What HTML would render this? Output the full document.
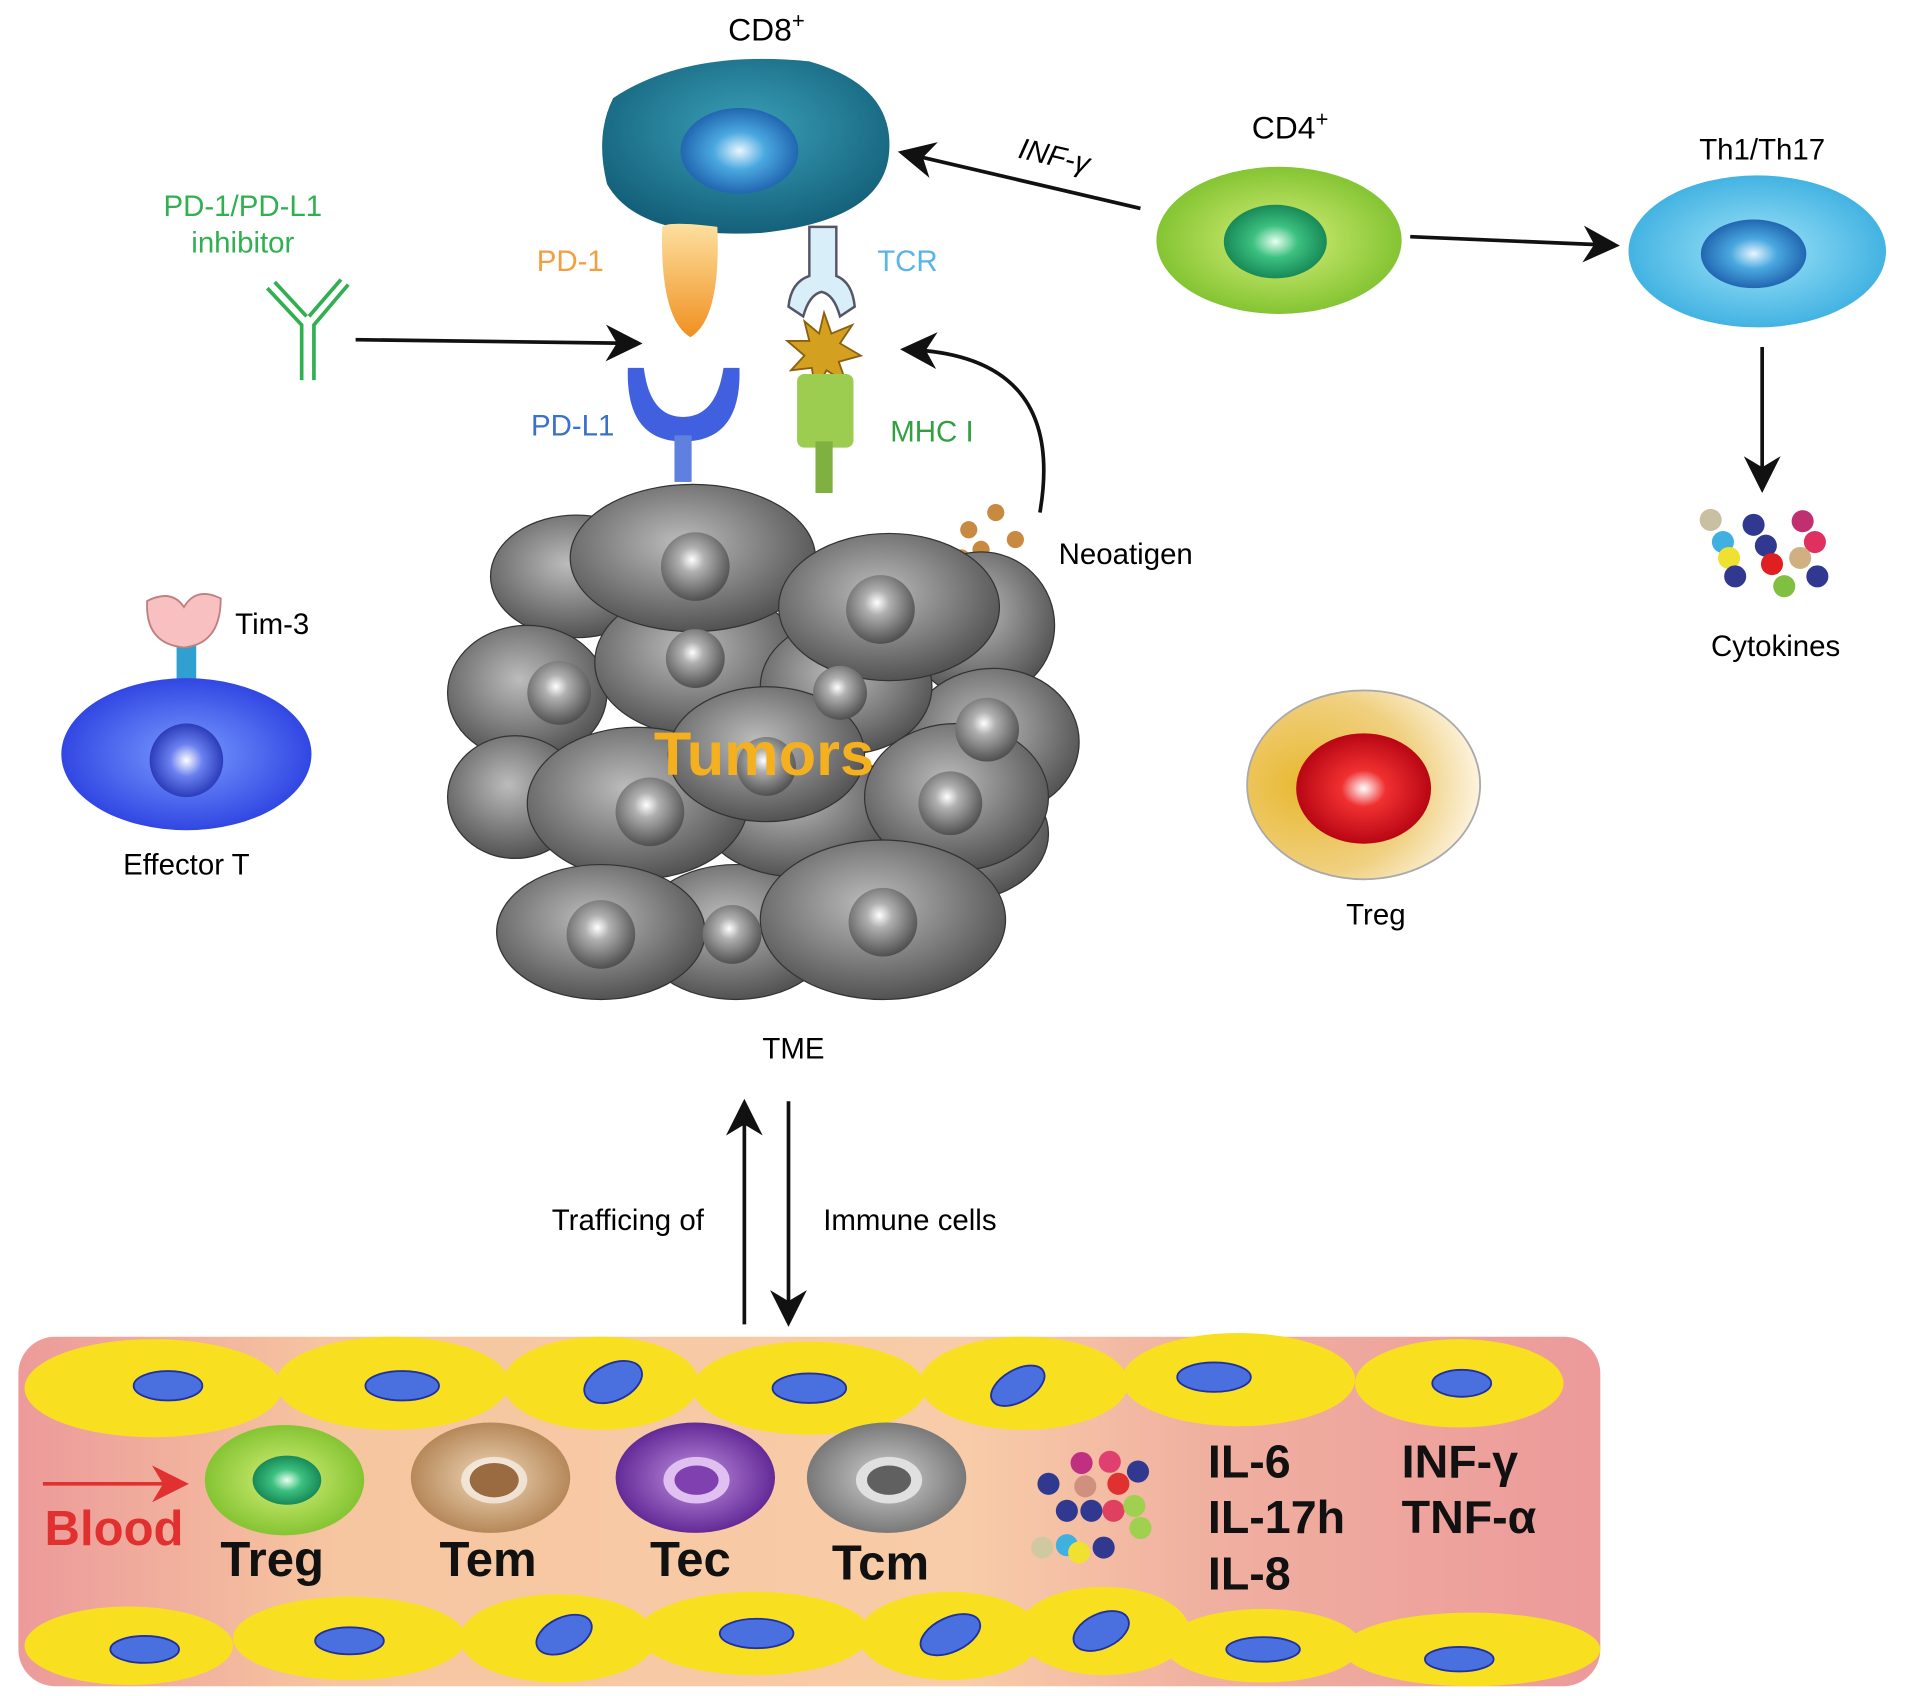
<!DOCTYPE html>
<html><head><meta charset="utf-8"><style>
html,body{margin:0;padding:0;background:#fff;}
svg{display:block;}
text{font-family:"Liberation Sans",sans-serif;}
</style></head><body>
<svg width="1913" height="1696" viewBox="0 0 1560 1383" preserveAspectRatio="none" xmlns="http://www.w3.org/2000/svg">
<defs>
<radialGradient id="teal" cx="50%" cy="40%" r="60%"><stop offset="0" stop-color="#3aa0b8"/><stop offset="1" stop-color="#14607a"/></radialGradient>
<radialGradient id="bluenuc" cx="50%" cy="50%" r="55%"><stop offset="0" stop-color="#e8f6ff"/><stop offset="0.4" stop-color="#4aa8e0"/><stop offset="1" stop-color="#1a5aa8"/></radialGradient>
<radialGradient id="green" cx="50%" cy="50%" r="55%"><stop offset="0" stop-color="#d8f07a"/><stop offset="1" stop-color="#7cc02c"/></radialGradient>
<radialGradient id="gnuc" cx="50%" cy="50%" r="55%"><stop offset="0" stop-color="#e8fff0"/><stop offset="0.4" stop-color="#3cc080"/><stop offset="1" stop-color="#118050"/></radialGradient>
<radialGradient id="lblue" cx="50%" cy="50%" r="55%"><stop offset="0" stop-color="#a0e4f8"/><stop offset="1" stop-color="#3aaee0"/></radialGradient>
<radialGradient id="eff" cx="50%" cy="50%" r="55%"><stop offset="0" stop-color="#7a9cff"/><stop offset="1" stop-color="#2a3ee0"/></radialGradient>
<radialGradient id="effn" cx="50%" cy="50%" r="55%"><stop offset="0" stop-color="#ffffff"/><stop offset="0.4" stop-color="#6a80f0"/><stop offset="1" stop-color="#2030b0"/></radialGradient>
<radialGradient id="gold" cx="25%" cy="50%" r="80%"><stop offset="0" stop-color="#e8b830"/><stop offset="0.6" stop-color="#f0d080"/><stop offset="1" stop-color="#fffaf0"/></radialGradient>
<radialGradient id="red" cx="50%" cy="50%" r="55%"><stop offset="0" stop-color="#ffffff"/><stop offset="0.3" stop-color="#f03030"/><stop offset="1" stop-color="#b00010"/></radialGradient>
<radialGradient id="gray" cx="45%" cy="40%" r="65%"><stop offset="0" stop-color="#bcbcbc"/><stop offset="1" stop-color="#4a4a4a"/></radialGradient>
<radialGradient id="gnuc2" cx="45%" cy="40%" r="60%"><stop offset="0" stop-color="#ffffff"/><stop offset="0.3" stop-color="#b0b0b0"/><stop offset="1" stop-color="#505050"/></radialGradient>
<linearGradient id="orange" x1="0" y1="0" x2="0" y2="1"><stop offset="0" stop-color="#fde0a0"/><stop offset="1" stop-color="#f09020"/></linearGradient>
<linearGradient id="vessel" x1="0" y1="0" x2="1" y2="0"><stop offset="0" stop-color="#ec9a9a"/><stop offset="0.2" stop-color="#f6c6a0"/><stop offset="0.6" stop-color="#f8cca8"/><stop offset="0.75" stop-color="#f0b0a0"/><stop offset="1" stop-color="#ec9a9a"/></linearGradient>
<radialGradient id="tem" cx="50%" cy="50%" r="55%"><stop offset="0" stop-color="#f0d8b8"/><stop offset="1" stop-color="#b08050"/></radialGradient>
<radialGradient id="tec" cx="50%" cy="50%" r="55%"><stop offset="0" stop-color="#c090e0"/><stop offset="1" stop-color="#5a2090"/></radialGradient>
<radialGradient id="tcm" cx="50%" cy="50%" r="55%"><stop offset="0" stop-color="#d0d0d0"/><stop offset="1" stop-color="#707070"/></radialGradient>
<marker id="ah" markerWidth="10" markerHeight="10" refX="8" refY="5" orient="auto" markerUnits="strokeWidth"><path d="M0,0 L10,5 L0,10 L3,5z" fill="#111"/></marker>
<marker id="ahr" markerWidth="10" markerHeight="10" refX="8" refY="5" orient="auto" markerUnits="strokeWidth"><path d="M0,0 L10,5 L0,10 L3,5z" fill="#e03030"/></marker>
</defs>

<!-- CD8 -->
<text x="625" y="33" font-size="26" text-anchor="middle">CD8<tspan dy="-10" font-size="18">+</tspan></text>
<path d="M500,80 Q560,40 660,50 Q730,70 725,125 Q720,180 620,190 Q520,195 495,150 Q485,110 500,80z" fill="url(#teal)"/>
<ellipse cx="603" cy="123" rx="48" ry="35" fill="url(#bluenuc)"/>
<path d="M540,185 Q545,180 585,185 Q588,260 563,275 Q538,260 540,185z" fill="url(#orange)"/>
<text x="465" y="221" font-size="24" fill="#f0a040" text-anchor="middle">PD-1</text>
<!-- TCR -->
<path d="M660,185 L660,225 Q645,230 643,250 L655,258 Q660,240 670,238 Q680,240 685,258 L697,250 Q695,230 682,225 L682,185z" fill="#d8eef8" stroke="#556" stroke-width="2"/>
<text x="740" y="221" font-size="24" fill="#5ab4e8" text-anchor="middle">TCR</text>
<polygon points="672,255 678,272 695,265 685,280 702,290 684,295 690,312 674,302 665,318 662,300 645,302 656,290 642,278 660,278 656,262 668,272" fill="#d4a020" stroke="#8a6010" stroke-width="1.5"/>
<rect x="650" y="305" width="46" height="60" rx="6" fill="#9ccc50"/>
<rect x="665" y="360" width="14" height="42" fill="#80b040"/>
<text x="760" y="360" font-size="24" fill="#30a040" text-anchor="middle">MHC I</text>
<!-- PD-L1 -->
<path d="M512,300 L525,300 Q530,340 557,340 Q584,340 590,300 L603,300 Q605,360 557,360 Q510,360 512,300z" fill="#4060e0"/>
<rect x="550" y="355" width="14" height="38" fill="#6080e0"/>
<text x="467" y="355" font-size="24" fill="#3a70d0" text-anchor="middle">PD-L1</text>
<!-- inhibitor -->
<text x="198" y="176" font-size="24" fill="#30b050" text-anchor="middle">PD-1/PD-L1</text>
<text x="198" y="206" font-size="24" fill="#30b050" text-anchor="middle">inhibitor</text>
<g stroke="#30b050" stroke-width="3" fill="none"><path d="M246,310 L246,265 L218,235 M256,310 L256,265 L284,232 M224,230 L250,258 M278,228 L252,258"/></g>
<line x1="290" y1="277" x2="518" y2="280" stroke="#111" stroke-width="3" marker-end="url(#ah)"/>
<!-- INF arrow -->
<line x1="930" y1="170" x2="738" y2="125" stroke="#111" stroke-width="3" marker-end="url(#ah)"/>
<text x="858" y="135" font-size="24" font-style="italic" text-anchor="middle" transform="rotate(13 858 135)">INF-γ</text>
<!-- CD4 -->
<text x="1052" y="113" font-size="26" text-anchor="middle">CD4<tspan dy="-10" font-size="18">+</tspan></text>
<ellipse cx="1043" cy="196" rx="100" ry="60" fill="url(#green)"/>
<ellipse cx="1040" cy="197" rx="42" ry="30" fill="url(#gnuc)"/>
<line x1="1150" y1="193" x2="1315" y2="200" stroke="#111" stroke-width="3" marker-end="url(#ah)"/>
<!-- Th1 -->
<text x="1437" y="130" font-size="24" text-anchor="middle">Th1/Th17</text>
<ellipse cx="1433" cy="205" rx="105" ry="62" fill="url(#lblue)"/>
<ellipse cx="1430" cy="207" rx="43" ry="28" fill="url(#bluenuc)"/>
<line x1="1437" y1="283" x2="1437" y2="396" stroke="#111" stroke-width="3" marker-end="url(#ah)"/>
<g>
<circle cx="1395" cy="424" r="9" fill="#c8c0a0"/><circle cx="1430" cy="428" r="9" fill="#303890"/><circle cx="1470" cy="425" r="9" fill="#c03070"/>
<circle cx="1405" cy="442" r="9" fill="#40b0e0"/><circle cx="1440" cy="445" r="9" fill="#303890"/><circle cx="1480" cy="442" r="9" fill="#e03060"/>
<circle cx="1410" cy="455" r="9" fill="#f0e030"/><circle cx="1445" cy="460" r="9" fill="#e02020"/><circle cx="1468" cy="455" r="9" fill="#d0b080"/>
<circle cx="1415" cy="470" r="9" fill="#303890"/><circle cx="1455" cy="478" r="9" fill="#80c040"/><circle cx="1482" cy="470" r="9" fill="#303890"/>
</g>
<text x="1448" y="535" font-size="24" text-anchor="middle">Cytokines</text>
<!-- neoantigen -->
<g fill="#c88a40"><circle cx="790" cy="432" r="7"/><circle cx="812" cy="418" r="7"/><circle cx="828" cy="440" r="7"/><circle cx="800" cy="448" r="7"/><circle cx="784" cy="455" r="7"/></g>
<text x="918" y="460" font-size="24" text-anchor="middle">Neoatigen</text>
<path d="M848,418 Q870,290 740,285" stroke="#111" stroke-width="3" fill="none" marker-end="url(#ah)"/>
<!-- Tumors -->
<g stroke="#333" stroke-width="1">
<ellipse cx="470" cy="470" rx="70" ry="50" fill="url(#gray)"/>
<ellipse cx="430" cy="565" rx="65" ry="55" fill="url(#gray)"/>
<ellipse cx="420" cy="650" rx="55" ry="50" fill="url(#gray)"/>
<ellipse cx="800" cy="510" rx="60" ry="60" fill="url(#gray)"/>
<ellipse cx="810" cy="605" rx="70" ry="60" fill="url(#gray)"/>
<ellipse cx="780" cy="680" rx="75" ry="55" fill="url(#gray)"/>
<ellipse cx="600" cy="760" rx="80" ry="55" fill="url(#gray)"/>
<ellipse cx="650" cy="660" rx="80" ry="55" fill="url(#gray)"/>
<ellipse cx="570" cy="540" rx="85" ry="60" fill="url(#gray)"/>
<ellipse cx="690" cy="560" rx="70" ry="55" fill="url(#gray)"/>
<ellipse cx="565" cy="455" rx="100" ry="60" fill="url(#gray)"/>
<ellipse cx="725" cy="495" rx="90" ry="60" fill="url(#gray)"/>
<ellipse cx="520" cy="655" rx="90" ry="62" fill="url(#gray)"/>
<ellipse cx="780" cy="650" rx="75" ry="60" fill="url(#gray)"/>
<ellipse cx="490" cy="760" rx="85" ry="55" fill="url(#gray)"/>
<ellipse cx="720" cy="750" rx="100" ry="65" fill="url(#gray)"/>
<ellipse cx="625" cy="615" rx="80" ry="55" fill="url(#gray)"/>
</g>
<g>
<circle cx="567" cy="462" r="28" fill="url(#gnuc2)"/><circle cx="718" cy="497" r="28" fill="url(#gnuc2)"/>
<circle cx="456" cy="565" r="26" fill="url(#gnuc2)"/><circle cx="567" cy="537" r="24" fill="url(#gnuc2)"/>
<circle cx="685" cy="565" r="22" fill="url(#gnuc2)"/><circle cx="805" cy="595" r="26" fill="url(#gnuc2)"/>
<circle cx="530" cy="662" r="28" fill="url(#gnuc2)"/><circle cx="625" cy="625" r="24" fill="url(#gnuc2)"/>
<circle cx="775" cy="655" r="26" fill="url(#gnuc2)"/><circle cx="490" cy="762" r="28" fill="url(#gnuc2)"/>
<circle cx="597" cy="762" r="24" fill="url(#gnuc2)"/><circle cx="720" cy="752" r="28" fill="url(#gnuc2)"/>
</g>
<text x="623" y="632" font-size="50" fill="#f5b020" text-anchor="middle" font-weight="bold">Tumors</text>
<text x="647" y="863" font-size="24" text-anchor="middle">TME</text>
<!-- Effector T -->
<rect x="144" y="525" width="16" height="30" fill="#30a0d0"/>
<path d="M120,490 Q140,480 150,495 Q160,478 180,488 Q180,525 150,528 Q118,525 120,490z" fill="#f8c0c0" stroke="#c08080" stroke-width="1.5"/>
<text x="222" y="517" font-size="24" text-anchor="middle">Tim-3</text>
<ellipse cx="152" cy="615" rx="102" ry="62" fill="url(#eff)"/>
<circle cx="152" cy="620" r="30" fill="url(#effn)"/>
<text x="152" y="713" font-size="24" text-anchor="middle">Effector T</text>
<!-- Treg -->
<ellipse cx="1112" cy="640" rx="95" ry="77" fill="url(#gold)" stroke="#aaa" stroke-width="1.5"/>
<ellipse cx="1112" cy="643" rx="55" ry="45" fill="url(#red)"/>
<text x="1122" y="754" font-size="24" text-anchor="middle">Treg</text>
<!-- trafficking -->
<line x1="607" y1="1080" x2="607" y2="902" stroke="#111" stroke-width="3" marker-end="url(#ah)"/>
<line x1="643" y1="898" x2="643" y2="1076" stroke="#111" stroke-width="3" marker-end="url(#ah)"/>
<text x="512" y="1003" font-size="24" text-anchor="middle">Trafficing of</text>
<text x="742" y="1003" font-size="24" text-anchor="middle">Immune cells</text>
<!-- vessel -->
<rect x="15" y="1090" width="1290" height="285" rx="30" fill="url(#vessel)"/>
<g fill="#f8e020">
<ellipse cx="125" cy="1132" rx="105" ry="40"/><ellipse cx="320" cy="1128" rx="95" ry="38"/><ellipse cx="490" cy="1128" rx="80" ry="38"/>
<ellipse cx="660" cy="1132" rx="95" ry="38"/><ellipse cx="835" cy="1128" rx="85" ry="38"/><ellipse cx="1010" cy="1125" rx="95" ry="38"/><ellipse cx="1190" cy="1128" rx="85" ry="36"/>
<ellipse cx="105" cy="1342" rx="85" ry="32"/><ellipse cx="285" cy="1336" rx="95" ry="34"/><ellipse cx="455" cy="1336" rx="80" ry="36"/>
<ellipse cx="615" cy="1332" rx="95" ry="34"/><ellipse cx="775" cy="1334" rx="75" ry="36"/><ellipse cx="900" cy="1330" rx="70" ry="36"/>
<ellipse cx="1030" cy="1342" rx="80" ry="30"/><ellipse cx="1200" cy="1345" rx="105" ry="30"/>
</g>
<g fill="#4a70e0" stroke="#2030a0" stroke-width="1.5">
<ellipse cx="137" cy="1130" rx="28" ry="12"/><ellipse cx="328" cy="1130" rx="30" ry="12"/><ellipse cx="500" cy="1127" rx="25" ry="15" transform="rotate(-25 500 1127)"/>
<ellipse cx="660" cy="1132" rx="30" ry="12"/><ellipse cx="830" cy="1130" rx="24" ry="13" transform="rotate(-30 830 1130)"/><ellipse cx="990" cy="1123" rx="30" ry="12"/><ellipse cx="1192" cy="1128" rx="24" ry="11"/>
<ellipse cx="118" cy="1345" rx="28" ry="11"/><ellipse cx="285" cy="1338" rx="28" ry="11"/><ellipse cx="460" cy="1333" rx="24" ry="14" transform="rotate(-25 460 1333)"/>
<ellipse cx="617" cy="1332" rx="30" ry="12"/><ellipse cx="775" cy="1333" rx="26" ry="14" transform="rotate(-25 775 1333)"/><ellipse cx="898" cy="1330" rx="24" ry="14" transform="rotate(-25 898 1330)"/>
<ellipse cx="1030" cy="1345" rx="30" ry="10"/><ellipse cx="1190" cy="1353" rx="28" ry="10"/>
</g>
<line x1="35" y1="1210" x2="148" y2="1210" stroke="#e03030" stroke-width="3" marker-end="url(#ahr)"/>
<text x="93" y="1260" font-size="40" font-weight="bold" fill="#e03030" text-anchor="middle">Blood</text>
<ellipse cx="232" cy="1207" rx="65" ry="45" fill="url(#green)"/><ellipse cx="234" cy="1207" rx="28" ry="20" fill="url(#gnuc)"/>
<ellipse cx="400" cy="1205" rx="65" ry="45" fill="url(#tem)"/><ellipse cx="403" cy="1207" rx="27" ry="19" fill="#fff" opacity="0.6"/><ellipse cx="403" cy="1207" rx="20" ry="14" fill="#9a6a40"/>
<ellipse cx="567" cy="1205" rx="65" ry="45" fill="url(#tec)"/><ellipse cx="568" cy="1207" rx="27" ry="19" fill="#e0c0f0"/><ellipse cx="568" cy="1207" rx="18" ry="12" fill="#8040b0"/>
<ellipse cx="723" cy="1205" rx="65" ry="45" fill="url(#tcm)"/><ellipse cx="725" cy="1207" rx="27" ry="19" fill="#e0e0e0"/><ellipse cx="725" cy="1207" rx="18" ry="12" fill="#606060"/>
<g font-size="40" font-weight="bold" fill="#111" text-anchor="middle">
<text x="222" y="1285">Treg</text><text x="398" y="1285">Tem</text><text x="563" y="1285">Tec</text><text x="718" y="1288">Tcm</text>
</g>
<g>
<circle cx="882" cy="1193" r="9" fill="#c03080"/><circle cx="905" cy="1192" r="9" fill="#e04070"/><circle cx="928" cy="1200" r="9" fill="#303890"/>
<circle cx="855" cy="1210" r="9" fill="#303890"/><circle cx="885" cy="1212" r="9" fill="#d09080"/><circle cx="912" cy="1210" r="9" fill="#e03030"/>
<circle cx="870" cy="1232" r="9" fill="#303890"/><circle cx="890" cy="1232" r="9" fill="#303890"/><circle cx="908" cy="1232" r="9" fill="#e04060"/><circle cx="925" cy="1228" r="9" fill="#a0d050"/>
<circle cx="850" cy="1262" r="9" fill="#d0c8a0"/><circle cx="870" cy="1260" r="9" fill="#40b0e0"/><circle cx="880" cy="1266" r="9" fill="#f0e030"/><circle cx="900" cy="1262" r="9" fill="#303890"/><circle cx="930" cy="1246" r="9" fill="#a0d050"/>
</g>
<g font-size="38" font-weight="bold" fill="#111">
<text x="985" y="1205">IL-6</text><text x="985" y="1250">IL-17h</text><text x="985" y="1296">IL-8</text>
<text x="1143" y="1205">INF-γ</text><text x="1143" y="1250">TNF-α</text>
</g>
</svg>
</body></html>
